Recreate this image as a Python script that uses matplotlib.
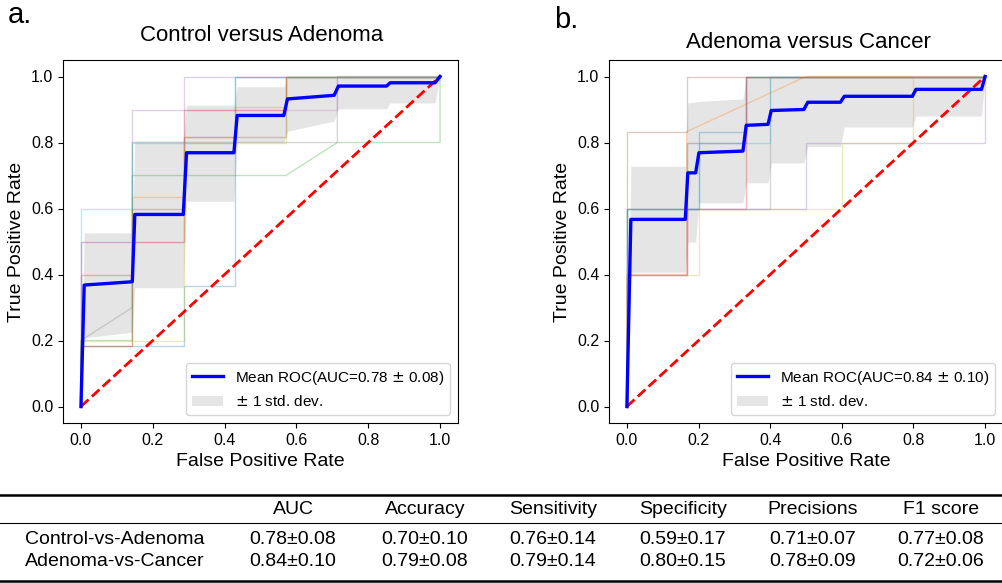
import numpy as np
import matplotlib.pyplot as plt
from matplotlib.lines import Line2D

plt.rcParams['font.family'] = ['Liberation Sans', 'DejaVu Sans']

W, H = 1003, 583

# ---- panel a: Control versus Adenoma ----
a_mean_fpr = [0, 0.009, 0.143, 0.150, 0.285, 0.294, 0.426, 0.435, 0.565, 0.575, 0.705, 0.717, 0.851, 0.861, 0.986, 1.0]
a_mean_tpr = [0, 0.368, 0.378, 0.582, 0.582, 0.769, 0.769, 0.882, 0.882, 0.932, 0.943, 0.971, 0.971, 0.981, 0.981, 1.0]
a_upper = [0, 0.526, 0.526, 0.804, 0.804, 0.913, 0.913, 0.969, 0.969, 1.0, 1.0, 1.0, 1.0, 1.0, 1.0, 1.0]
a_lower = [0, 0.208, 0.225, 0.360, 0.360, 0.622, 0.622, 0.800, 0.800, 0.834, 0.865, 0.902, 0.902, 0.920, 0.920, 1.0]
a_auc = "0.78"
a_std = "0.08"

a_folds = [
    ([0, 0, 0.286, 0.286, 0.429, 0.429, 1], [0, 0.182, 0.182, 0.364, 0.364, 1, 1]),
    ([0, 0, 0.143, 0.143, 0.286, 0.286, 0.429, 0.429, 0.571, 0.571, 1],
     [0, 0.182, 0.182, 0.636, 0.636, 0.818, 0.818, 0.909, 0.909, 1, 1]),
    ([0, 0, 0.143, 0.143, 0.571, 0.714, 1, 1], [0, 0.2, 0.2, 0.7, 0.7, 0.8, 0.8, 1]),
    ([0, 0, 0.143, 0.143, 0.286, 0.286, 0.571, 0.571, 1], [0, 0.4, 0.4, 0.5, 0.5, 0.9, 0.9, 1, 1]),
    ([0, 0, 0.143, 0.143, 0.286, 0.286, 1], [0, 0.5, 0.5, 0.9, 0.9, 1, 1]),
    ([0, 0, 0.143, 0.143, 0.286, 0.286, 0.571, 0.571, 1], [0, 0.182, 0.182, 0.6, 0.6, 0.818, 0.818, 1, 1]),
    ([0, 0, 0.286, 0.286, 0.714, 0.714, 1], [0, 0.5, 0.5, 0.9, 0.9, 1, 1]),
    ([0, 0, 0.143, 0.143, 0.714, 0.714, 1], [0, 0.2, 0.3, 0.8, 0.8, 1, 1]),
    ([0, 0, 0.286, 0.286, 0.571, 0.571, 1], [0, 0.2, 0.2, 0.8, 0.8, 1, 1]),
    ([0, 0, 0.143, 0.143, 0.429, 0.429, 0.571, 0.571, 1], [0, 0.6, 0.6, 0.8, 0.8, 1, 1, 1, 1]),
]

# ---- panel b: Adenoma versus Cancer ----
b_mean_fpr = [0, 0.011, 0.163, 0.170, 0.192, 0.201, 0.324, 0.333, 0.394, 0.403, 0.494, 0.505, 0.596, 0.607, 0.797, 0.807, 0.990, 1.0]
b_mean_tpr = [0, 0.567, 0.567, 0.708, 0.708, 0.769, 0.774, 0.852, 0.855, 0.897, 0.900, 0.922, 0.922, 0.940, 0.940, 0.961, 0.961, 1.0]
b_upper = [0, 0.728, 0.728, 0.920, 0.923, 0.925, 0.932, 1.0, 1.0, 1.0, 1.0, 1.0, 1.0, 1.0, 1.0, 1.0, 1.0, 1.0]
b_lower = [0, 0.407, 0.407, 0.498, 0.498, 0.617, 0.617, 0.678, 0.678, 0.738, 0.738, 0.788, 0.788, 0.847, 0.847, 0.880, 0.880, 1.0]
b_auc = "0.84"
b_std = "0.10"

b_folds = [
    ([0, 0, 0.2, 0.2, 0.333, 0.333, 1], [0, 0.6, 0.6, 0.833, 0.833, 1, 1]),
    ([0, 0, 0.167, 0.167, 0.5, 1], [0, 0.4, 0.4, 0.833, 1, 1]),
    ([0, 0, 0.167, 0.167, 0.333, 0.333, 1], [0, 0.6, 0.6, 0.8, 0.8, 1, 1]),
    ([0, 0, 0.167, 0.167, 0.333, 0.333, 1], [0, 0.4, 0.4, 0.6, 0.6, 1, 1]),
    ([0, 0, 0.167, 0.167, 0.5, 0.5, 1, 1], [0, 0.4, 0.4, 0.6, 0.6, 0.8, 0.8, 1]),
    ([0, 0, 0.167, 0.167, 1], [0, 0.833, 0.833, 1, 1]),
    ([0, 0, 0.167, 0.167, 0.333, 0.333, 1], [0, 0.4, 0.4, 0.8, 0.8, 1, 1]),
    ([0, 0, 0.4, 0.4, 1], [0, 0.6, 0.6, 1, 1]),
    ([0, 0, 0.2, 0.2, 0.6, 0.6, 0.8, 0.8, 1], [0, 0.4, 0.4, 0.6, 0.6, 0.8, 0.8, 1, 1]),
    ([0, 0, 0.2, 0.2, 0.4, 0.4, 1], [0, 0.6, 0.6, 0.8, 0.8, 1, 1]),
]

# ---- table ----
col_names = ["AUC", "Accuracy", "Sensitivity", "Specificity", "Precisions", "F1 score"]
row_names = ["Control-vs-Adenoma", "Adenoma-vs-Cancer"]
row_values = [
    ["0.78±0.08", "0.70±0.10", "0.76±0.14", "0.59±0.17", "0.71±0.07", "0.77±0.08"],
    ["0.84±0.10", "0.79±0.08", "0.79±0.14", "0.80±0.15", "0.78±0.09", "0.72±0.06"],
]


def fx(px):
    return px / W


def fy(py):
    return 1 - py / H


def draw_roc(ax, folds, mean_fpr, mean_tpr, lower, upper, auc, std):
    for i, (f, t) in enumerate(folds):
        ax.plot(f, t, color=f'C{i}', lw=1, alpha=0.3)
    ax.plot([0, 1], [0, 1], linestyle='--', lw=2, color='r')
    ax.plot(mean_fpr, mean_tpr, color='b', lw=2.4,
            label=f'Mean ROC(AUC={auc} $\\pm$ {std})')
    ax.fill_between(mean_fpr, lower, upper, color='grey', alpha=0.2,
                    lw=0, label='$\\pm$ 1 std. dev.')
    ax.set_xlim(-0.05, 1.05)
    ax.set_ylim(-0.05, 1.05)
    ax.set_xticks([0, 0.2, 0.4, 0.6, 0.8, 1.0])
    ax.set_yticks([0, 0.2, 0.4, 0.6, 0.8, 1.0])
    ax.tick_params(labelsize=11.5)
    ax.set_xlabel('False Positive Rate', fontsize=14)
    ax.set_ylabel('True Positive Rate', fontsize=14)
    ax.legend(loc='lower right', fontsize=11)


def main():
    fig = plt.figure(figsize=(W / 100, H / 100), dpi=100)

    ax1 = fig.add_axes([fx(63), fy(423), fx(395), 363 / H])
    ax2 = fig.add_axes([fx(609), fy(423), fx(394), 363 / H])

    draw_roc(ax1, a_folds, a_mean_fpr, a_mean_tpr, a_lower, a_upper, a_auc, a_std)
    draw_roc(ax2, b_folds, b_mean_fpr, b_mean_tpr, b_lower, b_upper, b_auc, b_std)

    # titles and panel letters
    fig.text(fx(262), fy(41), 'Control versus Adenoma', fontsize=16, ha='center', va='baseline')
    fig.text(fx(808), fy(48), 'Adenoma versus Cancer', fontsize=16, ha='center', va='baseline')
    fig.text(fx(8), fy(23), 'a.', fontsize=21, va='baseline')
    fig.text(fx(554), fy(28), 'b.', fontsize=21, va='baseline')

    # table rules
    for y, lw in [(495, 1.8), (523, 0.8), (581, 1.8)]:
        fig.add_artist(Line2D([0, 1], [fy(y), fy(y)], transform=fig.transFigure,
                              color='black', lw=lw))

    col_x = [293, 425, 553, 683, 813, 941]
    row_y = [540, 562]
    for name, cx in zip(col_names, col_x):
        fig.text(fx(cx), fy(509), name, fontsize=14, ha='center', va='center')
    for name, vals, ry in zip(row_names, row_values, row_y):
        fig.text(fx(25), fy(ry), name, fontsize=14, ha='left', va='center')
        for v, cx in zip(vals, col_x):
            fig.text(fx(cx), fy(ry), v, fontsize=14, ha='center', va='center')

    fig.savefig('out.png', dpi=100)
    plt.close(fig)


if __name__ == "__main__":
    main()
